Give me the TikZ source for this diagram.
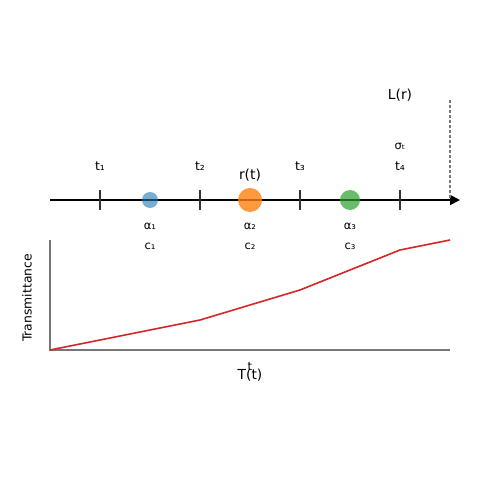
\documentclass[tikz,border=0pt]{standalone}
\usepackage{fontspec}
\setmainfont{DejaVu Sans}
\usetikzlibrary{arrows.meta}
\definecolor{mblue}{HTML}{1F77B4}
\definecolor{morange}{HTML}{FF7F0E}
\definecolor{mgreen}{HTML}{2CA02C}
\definecolor{mred}{HTML}{D62728}
\definecolor{tickgray}{HTML}{333333}
\definecolor{axgray}{HTML}{777777}
\tikzset{
  lbl/.style={inner sep=0pt, font=\fontsize{12.4}{14}\selectfont},
  sml/.style={inner sep=0pt, font=\fontsize{11.5}{13}\selectfont},
  big/.style={inner sep=0pt, font=\fontsize{13.8}{16}\selectfont},
  tickmark/.style={draw=tickgray, line width=1.5pt},
  ball/.style={circle, inner sep=0pt, draw=none},
}
\begin{document}
\begin{tikzpicture}[x=1pt,y=-1pt]
\useasboundingbox (0,0) rectangle (500,500);
% ray axis
\coordinate (a0) at (50,200);
\coordinate (a1) at (460,200);
\draw[line width=1.8pt, -{Triangle[length=10pt,width=10pt]}] (a0) -- (a1);
% ticks
\foreach \i/\x in {1/100,2/200,3/300,4/400}{
  \coordinate (tt\i) at (\x,190);
  \coordinate (tb\i) at (\x,210);
  \draw[tickmark] (tt\i) -- (tb\i);
  \node[lbl] (tl\i) at (\x,166) {t\ifcase\i\or ₁\or ₂\or ₃\or ₄\fi};
}
% dashed line
\coordinate (d0) at (450,100);
\coordinate (d1) at (450,198);
\draw[axgray, line width=1.2pt, dash pattern=on 3pt off 2pt] (d0) -- (d1);
% samples
\node[ball, fill=mblue, fill opacity=0.6, minimum size=16pt] (s1) at (150,200) {};
\node[ball, fill=morange, fill opacity=0.8, minimum size=24pt] (s2) at (250,200) {};
\node[ball, fill=mgreen, fill opacity=0.7, minimum size=20pt] (s3) at (350,200) {};
\node[big] (rt) at (250,175) {r(t)};
\node[sml] (al1) at (150,226) {α₁};
\node[sml] (al2) at (250,226) {α₂};
\node[sml] (al3) at (350,226) {α₃};
\node[sml] (c1) at (150,246) {c₁};
\node[sml] (c2) at (250,246) {c₂};
\node[sml] (c3) at (350,246) {c₃};
\node[sml] (sig) at (400,146) {σₜ};
\node[big] (L) at (400,95) {L(r)};
% transmittance plot
\coordinate (o) at (50,350);
\coordinate (yt) at (50,240);
\coordinate (xr) at (450,350);
\draw[axgray, line width=1.8pt] (yt) -- (o) -- (xr);
\coordinate (p1) at (200,320);
\coordinate (p2) at (300,290);
\coordinate (p3) at (400,250);
\coordinate (p4) at (450,240);
\draw[mred, line width=1.6pt, line join=round] (o) -- (p1) -- (p2) -- (p3) -- (p4);
\node[lbl, rotate=90] (tr) at (27,298) {Transmittance};
\node[sml] (tx) at (250,366) {t};
\node[big] (Tt) at (250,375) {T(t)};
\end{tikzpicture}
\end{document}
